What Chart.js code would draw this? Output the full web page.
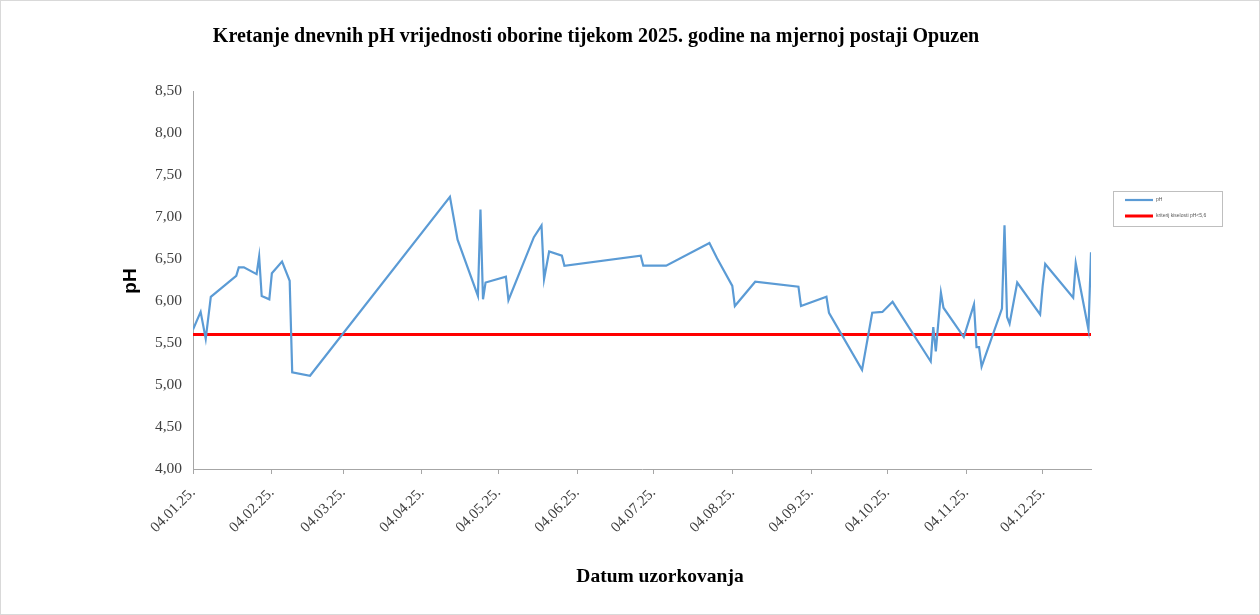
<!DOCTYPE html>
<html>
<head>
<meta charset="utf-8">
<script src="https://cdn.jsdelivr.net/npm/chart.js@4/dist/chart.umd.min.js"></script>
<style>
  html, body { margin: 0; padding: 0; background: #fff; }
  #wrap { width: 1260px; height: 615px; position: relative; }
</style>
</head>
<body>
<div id="wrap"><canvas id="phChart" width="1260" height="615"></canvas></div>
<script>
// datumi uzorkovanja i izmjerene pH vrijednosti
const sampleDates = [
    "2025-01-04", "2025-01-07", "2025-01-09", "2025-01-11", "2025-01-21", "2025-01-22",
    "2025-01-24", "2025-01-29", "2025-01-30", "2025-01-31", "2025-02-03", "2025-02-04",
    "2025-02-08", "2025-02-11", "2025-02-12", "2025-02-19", "2025-04-15", "2025-04-18",
    "2025-04-26", "2025-04-27", "2025-04-28", "2025-04-29", "2025-05-07", "2025-05-08",
    "2025-05-18", "2025-05-21", "2025-05-22", "2025-05-24", "2025-05-29", "2025-05-30",
    "2025-06-29", "2025-06-30", "2025-07-09", "2025-07-26", "2025-07-29", "2025-08-04",
    "2025-08-05", "2025-08-13", "2025-08-30", "2025-08-31", "2025-09-10", "2025-09-11",
    "2025-09-24", "2025-09-28", "2025-10-02", "2025-10-06", "2025-10-21", "2025-10-22",
    "2025-10-23", "2025-10-25", "2025-10-26", "2025-11-03", "2025-11-07", "2025-11-08",
    "2025-11-09", "2025-11-10", "2025-11-18", "2025-11-19", "2025-11-20", "2025-11-21",
    "2025-11-24", "2025-12-03", "2025-12-04", "2025-12-05", "2025-12-16", "2025-12-17",
    "2025-12-22", "2025-12-23"
];
const phValues = [
    5.66, 5.87, 5.55, 6.05, 6.30, 6.40,
    6.40, 6.32, 6.53, 6.06, 6.02, 6.33,
    6.47, 6.24, 5.15, 5.11, 7.24, 6.73,
    6.06, 7.09, 6.02, 6.22, 6.29, 6.01,
    6.76, 6.90, 6.26, 6.59, 6.54, 6.42,
    6.54, 6.42, 6.42, 6.69, 6.51, 6.18,
    5.94, 6.23, 6.17, 5.94, 6.05, 5.86,
    5.18, 5.86, 5.87, 5.99, 5.28, 5.69,
    5.40, 6.10, 5.92, 5.57, 5.96, 5.45,
    5.45, 5.22, 5.91, 6.90, 5.81, 5.73,
    6.22, 5.84, 6.18, 6.44, 6.04, 6.45,
    5.66, 6.58
];
const acidLimit = 5.6;
const tickDates = [
    "2025-01-04", "2025-02-04", "2025-03-04", "2025-04-04", "2025-05-04", "2025-06-04",
    "2025-07-04", "2025-08-04", "2025-09-04", "2025-10-04", "2025-11-04", "2025-12-04"
];
const seriesLabels = ["pH", "kriterij kiselosti pH<5,6"];
const chartTitle = "Kretanje dnevnih pH vrijednosti oborine tijekom 2025. godine na mjernoj postaji Opuzen";
const xTitle = "Datum uzorkovanja";
const yTitle = "pH";

const DAY = 86400000;
const start = Date.parse(sampleDates[0]);
const toDay = s => Math.round((Date.parse(s) - start) / DAY);

function fmtDay(d) {
    const dt = new Date(start + d * DAY);
    const dd = String(dt.getUTCDate()).padStart(2, "0");
    const mm = String(dt.getUTCMonth() + 1).padStart(2, "0");
    const yy = String(dt.getUTCFullYear()).slice(2);
    return `${dd}.${mm}.${yy}.`;
}

const points = sampleDates.map((s, i) => ({ x: toDay(s), y: phValues[i] }));
const lastDay = toDay(sampleDates[sampleDates.length - 1]);
const limitLine = [{ x: 0, y: acidLimit }, { x: lastDay, y: acidLimit }];

const plotLeft = 193, plotTop = 91, plotRight = 1091, plotBottom = 469;

const decorations = {
    id: "decorations",
    afterDraw(chart) {
        const ctx = chart.ctx;
        ctx.save();
        // okvir
        ctx.strokeStyle = "#d9d9d9";
        ctx.lineWidth = 1;
        ctx.strokeRect(0.5, 0.5, 1259, 614);

        ctx.fillStyle = "#000";
        ctx.textAlign = "center";
        ctx.textBaseline = "middle";
        ctx.font = "bold 20px 'Liberation Serif'";
        ctx.fillText(chartTitle, 596, 37);
        ctx.font = "bold 19.5px 'Liberation Serif'";
        ctx.fillText(xTitle, 660, 577);

        ctx.save();
        ctx.translate(131, 281);
        ctx.rotate(-Math.PI / 2);
        ctx.font = "bold 19px 'Liberation Sans'";
        ctx.fillText(yTitle, 0, 0);
        ctx.restore();

        // legenda
        ctx.strokeStyle = "#bfbfbf";
        ctx.strokeRect(1113.5, 191.5, 109, 35);
        const ds = chart.data.datasets;
        ctx.font = "5px 'Liberation Sans'";
        ctx.textAlign = "left";
        ctx.fillStyle = "#595959";
        [200, 216].forEach((y, i) => {
            ctx.strokeStyle = ds[i].borderColor;
            ctx.lineWidth = ds[i].borderWidth;
            ctx.beginPath();
            ctx.moveTo(1125, y);
            ctx.lineTo(1153, y);
            ctx.stroke();
            ctx.fillText(seriesLabels[i], 1156, y);
        });
        ctx.restore();
    }
};

new Chart(document.getElementById("phChart"), {
    type: "line",
    data: {
        datasets: [
            {
                label: seriesLabels[0],
                data: points,
                borderColor: "#5B9BD5",
                borderWidth: 2.2,
                pointRadius: 0,
                tension: 0
            },
            {
                label: seriesLabels[1],
                data: limitLine,
                borderColor: "#FF0000",
                borderWidth: 3,
                pointRadius: 0,
                tension: 0
            }
        ]
    },
    options: {
        responsive: false,
        animation: false,
        layout: {
            padding: { top: plotTop, right: 1260 - plotRight, left: 0, bottom: 0 }
        },
        plugins: {
            legend: { display: false },
            tooltip: { enabled: false }
        },
        scales: {
            x: {
                type: "linear",
                min: 0,
                max: lastDay,
                afterFit: s => { s.height = 615 - plotBottom; },
                afterBuildTicks: s => { s.ticks = tickDates.map(d => ({ value: toDay(d) })); },
                grid: { display: true, drawOnChartArea: false, drawTicks: true, tickLength: 5, color: "#a6a6a6" },
                border: { display: true, color: "#a6a6a6", width: 1 },
                ticks: {
                    autoSkip: false,
                    maxRotation: 45,
                    minRotation: 45,
                    padding: 10,
                    color: "#404040",
                    font: { family: "'Liberation Serif'", size: 15 },
                    callback: v => fmtDay(v)
                }
            },
            y: {
                min: 4,
                max: 8.5,
                afterFit: s => { s.width = plotLeft; },
                grid: { display: false, drawTicks: false },
                border: { display: true, color: "#a6a6a6", width: 1 },
                ticks: {
                    stepSize: 0.5,
                    padding: 11,
                    color: "#404040",
                    font: { family: "'Liberation Serif'", size: 15.5 },
                    callback: v => v.toFixed(2).replace(".", ",")
                }
            }
        }
    },
    plugins: [decorations]
});
</script>
</body>
</html>
